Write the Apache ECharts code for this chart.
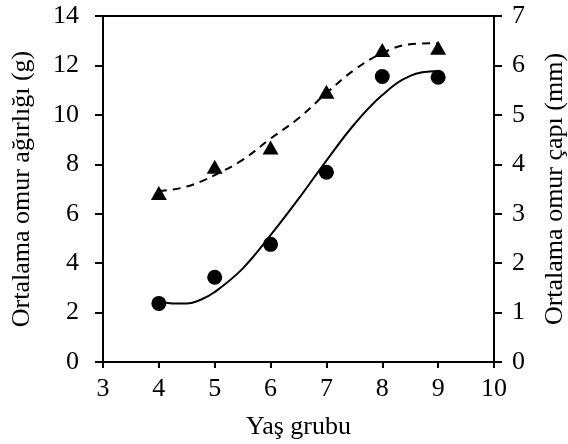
<!DOCTYPE html>
<html>
<head>
<meta charset="utf-8">
<script src="https://cdn.jsdelivr.net/npm/echarts@6/dist/echarts.min.js"></script>
<style>
    html, body { margin: 0; padding: 0; background: #fff; }
    #chart { width: 568px; height: 444px; }
</style>
</head>
<body>
<div id="chart"></div>
<script>
// yaş grupları ve ölçülen ortalamalar
const ageGroups = [4, 5, 6, 7, 8, 9];
const weightVals = [2.37, 3.43, 4.76, 7.68, 11.55, 11.52];   // g, sol eksen
const diameterVals = [3.42, 3.95, 4.34, 5.47, 6.31, 6.36];   // mm, sağ eksen

// eğilim çizgileri (resimden okunan noktalar)
const trendX = [4, 4.25, 4.5, 4.75, 5, 5.5, 6, 6.5, 7, 7.5, 8, 8.5, 9];
const weightTrend = [2.48, 2.37, 2.37, 2.52, 2.83, 3.78, 5.13, 6.6, 8.15, 9.62, 10.8, 11.58, 11.77];
const diameterTrend = [3.46, 3.49, 3.55, 3.65, 3.78, 4.09, 4.52, 4.93, 5.44, 5.91, 6.25, 6.43, 6.45];

const font = 'Liberation Serif';

function pairs(xs, ys) {
    return xs.map((x, i) => [x, ys[i]]);
}

const myChart = echarts.init(document.getElementById('chart'));
myChart.setOption({
    animation: false,
    textStyle: { fontFamily: font, color: '#000' },
    grid: {
        left: 103,
        right: 74,
        top: 16,
        bottom: 82,
        containLabel: false,
        outerBoundsMode: 'none',
        show: true,
        borderColor: '#000',
        borderWidth: 2
    },
    xAxis: {
        type: 'value',
        min: 3,
        max: 10,
        interval: 1,
        name: 'Yaş grubu',
        nameLocation: 'middle',
        nameGap: 52,
        nameTextStyle: { fontFamily: font, fontSize: 26, color: '#000' },
        axisLine: { lineStyle: { color: '#000', width: 2 } },
        axisTick: { show: true, length: 6, lineStyle: { color: '#000', width: 2 } },
        axisLabel: { fontFamily: font, fontSize: 26, color: '#000', margin: 14 },
        splitLine: { show: false }
    },
    yAxis: [
        {
            type: 'value',
            min: 0,
            max: 14,
            interval: 2,
            name: 'Ortalama omur ağırlığı (g)',
            nameLocation: 'middle',
            nameGap: 68,
            nameTextStyle: { fontFamily: font, fontSize: 26, color: '#000' },
            axisLine: { show: true, lineStyle: { color: '#000', width: 2 } },
            axisTick: { show: true, length: 8, lineStyle: { color: '#000', width: 2 } },
            axisLabel: { fontFamily: font, fontSize: 26, color: '#000', margin: 24 },
            splitLine: { show: false }
        },
        {
            type: 'value',
            min: 0,
            max: 7,
            interval: 1,
            position: 'right',
            name: 'Ortalama omur çapı (mm)',
            nameLocation: 'middle',
            nameGap: 48,
            nameRotate: 90,
            nameTextStyle: { fontFamily: font, fontSize: 26, color: '#000' },
            axisLine: { show: true, lineStyle: { color: '#000', width: 2 } },
            axisTick: { show: true, length: 8, lineStyle: { color: '#000', width: 2 } },
            axisLabel: { fontFamily: font, fontSize: 26, color: '#000', margin: 18 },
            splitLine: { show: false }
        }
    ],
    series: [
        {
            name: 'ağırlık eğilimi',
            type: 'line',
            yAxisIndex: 0,
            data: pairs(trendX, weightTrend),
            smooth: 0.4,
            showSymbol: false,
            lineStyle: { color: '#000', width: 2 },
            z: 2
        },
        {
            name: 'çap eğilimi',
            type: 'line',
            yAxisIndex: 1,
            data: pairs(trendX, diameterTrend),
            smooth: 0.4,
            showSymbol: false,
            lineStyle: { color: '#000', width: 2, type: [8, 6] },
            z: 2
        },
        {
            name: 'ağırlık',
            type: 'scatter',
            yAxisIndex: 0,
            data: pairs(ageGroups, weightVals),
            symbol: 'circle',
            symbolSize: 15,
            itemStyle: { color: '#000', opacity: 1 },
            z: 3
        },
        {
            name: 'çap',
            type: 'scatter',
            yAxisIndex: 1,
            data: pairs(ageGroups, diameterVals),
            symbol: 'triangle',
            symbolSize: [16, 14],
            itemStyle: { color: '#000', opacity: 1 },
            z: 3
        }
    ]
});
</script>
</body>
</html>
